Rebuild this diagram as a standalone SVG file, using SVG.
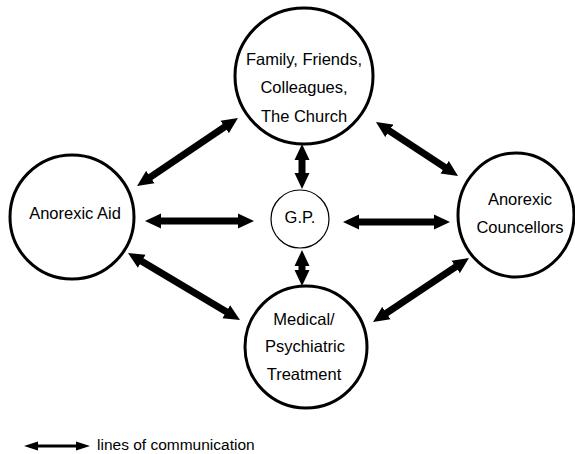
<svg xmlns="http://www.w3.org/2000/svg" width="575" height="454" viewBox="0 0 575 454">
<style>
.big{fill:#fff;stroke:#000;stroke-width:3}
.small{fill:#fff;stroke:#000;stroke-width:1.2}
.t{font-family:"Liberation Sans",Arial,sans-serif;font-size:16.5px;fill:#000;text-anchor:middle}
.a{stroke:#000;stroke-width:7;fill:none;marker-start:url(#h);marker-end:url(#h)}
</style>
<defs>
<marker id="h" markerUnits="userSpaceOnUse" viewBox="0 -8 16 16" refX="4" refY="0" markerWidth="16" markerHeight="16" orient="auto-start-reverse">
<path d="M0,-7.5 L16,0 L0,7.5 z" fill="#000"/>
</marker>
<marker id="hs" markerUnits="userSpaceOnUse" viewBox="0 -5 14 10" refX="3" refY="0" markerWidth="14" markerHeight="10" orient="auto-start-reverse">
<path d="M0,-4.5 L14,0 L0,4.5 z" fill="#000"/>
</marker>
</defs>
<g id="connectors">
<line class="a" x1="157" y1="221" x2="242" y2="221"/>
<line class="a" x1="355" y1="222" x2="438" y2="222"/>
<line class="a" x1="302" y1="156" x2="302" y2="177"/>
<line class="a" x1="302" y1="262" x2="302" y2="274"/>
<line class="a" x1="147" y1="179.3" x2="228" y2="124.7"/>
<line class="a" x1="386" y1="128.6" x2="448" y2="169.4"/>
<line class="a" x1="138.3" y1="259.2" x2="229.7" y2="313.8"/>
<line class="a" x1="383" y1="315.3" x2="459" y2="264.7"/>
</g>
<g id="family">
<ellipse class="big" cx="304" cy="76" rx="69" ry="68"/>
<text class="t" x="304" y="65">Family, Friends,</text>
<text class="t" x="304" y="93">Colleagues,</text>
<text class="t" x="304" y="122">The Church</text>
</g>
<g id="aid">
<circle class="big" cx="72" cy="217" r="62"/>
<text class="t" x="75" y="219">Anorexic Aid</text>
</g>
<g id="gp">
<circle class="small" cx="300" cy="219" r="29"/>
<text class="t" x="300" y="223">G.P.</text>
</g>
<g id="councellors">
<ellipse class="big" cx="516" cy="215" rx="58" ry="62"/>
<text class="t" x="520" y="205">Anorexic</text>
<text class="t" x="520" y="233">Councellors</text>
</g>
<g id="medical">
<circle class="big" cx="306" cy="347" r="61"/>
<text class="t" x="304" y="325">Medical/</text>
<text class="t" x="305" y="352">Psychiatric</text>
<text class="t" x="304" y="380">Treatment</text>
</g>
<g id="legend">
<line x1="35" y1="446" x2="79" y2="446" stroke="#000" stroke-width="3" marker-start="url(#hs)" marker-end="url(#hs)"/>
<text x="97" y="450" style="font-family:'Liberation Sans',Arial,sans-serif;font-size:15.5px">lines of communication</text>
</g>
</svg>
